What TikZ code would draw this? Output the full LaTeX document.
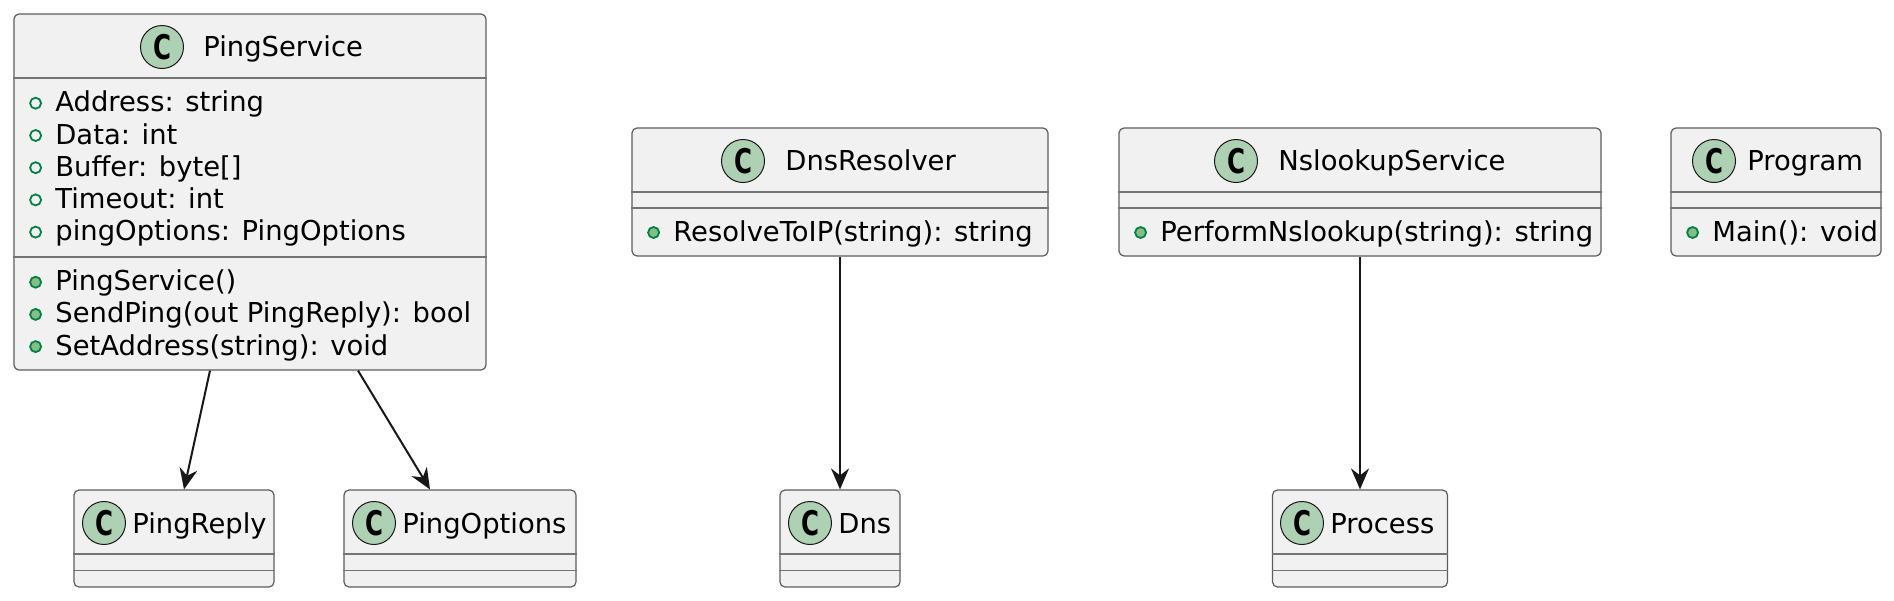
\documentclass[tikz,border=0pt]{standalone}
\usepackage{fontspec}
\setmainfont{DejaVu Sans}
\usetikzlibrary{arrows.meta, positioning}
\definecolor{umlfill}{HTML}{F1F1F1}
\definecolor{umlline}{HTML}{181818}
\definecolor{umlspot}{HTML}{ADD1B2}
\definecolor{umlgreen}{HTML}{038048}
\definecolor{umlmeth}{HTML}{84BE84}
\tikzset{
        classbox/.style={draw=umlline!70, fill=umlfill, rounded corners=2.5pt, line width=0.6pt, inner sep=0pt}, % body of a class
        spot/.style={circle, draw=umlline, fill=umlspot, line width=0.5pt, minimum size=21.5pt, inner sep=0pt,
                font=\bfseries\fontsize{17}{17}\selectfont}, % the round C
        cname/.style={anchor=base west, inner sep=0pt}, % class name
        member/.style={anchor=base west, inner sep=0pt, text height=10pt, text depth=1.5pt},
        bullet/.style={circle, draw=umlgreen, line width=0.9pt, minimum size=5.5pt, inner sep=0pt, xshift=-6.5pt},
        field/.style={member, label={[bullet]left:{}}}, % open dot
        method/.style={member, label={[bullet, fill=umlmeth]left:{}}}, % filled dot
        sep/.style={draw=umlline!60, line width=0.6pt},
        uses/.style={draw=umlline, line width=1pt, -{Stealth[length=10.5pt, width=9pt, inset=3.5pt]}},
    }
\begin{document}
\begin{tikzpicture}[x=0.5pt, y=-0.5pt, font=\fontsize{13.7}{16}\selectfont]
    \useasboundingbox (0,0) rectangle (1894,600);
    % top row
    \node[classbox, minimum width=236pt, minimum height=178pt] (PingService) at (250,192) {};
    \node[spot] (psC) at (162,47) {\scalebox{0.72}[1]{C}};
    \node[cname] (psName) at (203,56) {PingService};
    \draw[sep] (PingService.west |- 0,78) -- (PingService.east |- 0,78);
    \node[field] (psAddress) at (55,111.7) {Address: string};
    \node[field] (psData) at (55,144) {Data: int};
    \node[field] (psBuffer) at (55,176.2) {Buffer: byte[]};
    \node[field] (psTimeout) at (55,208.4) {Timeout: int};
    \node[field] (psOptions) at (55,240.6) {pingOptions: PingOptions};
    \draw[sep] (PingService.west |- 0,257) -- (PingService.east |- 0,257);
    \node[method] (psCtor) at (55,290.7) {PingService()};
    \node[method] (psSend) at (55,322.9) {SendPing(out PingReply): bool};
    \node[method] (psSet) at (55,355.1) {SetAddress(string): void};

    \node[classbox, minimum width=208pt, minimum height=64pt] (DnsResolver) at (840,192) {};
    \node[spot] (drC) at (743,161) {\scalebox{0.72}[1]{C}};
    \node[cname] (drName) at (785,170.5) {DnsResolver};
    \draw[sep] (DnsResolver.west |- 0,192) -- (DnsResolver.east |- 0,192);
    \draw[sep] (DnsResolver.west |- 0,208) -- (DnsResolver.east |- 0,208);
    \node[method] (drResolve) at (673,241) {ResolveToIP(string): string};

    \node[classbox, minimum width=241pt, minimum height=64pt] (NslookupService) at (1360,192) {};
    \node[spot] (nsC) at (1236,161) {\scalebox{0.72}[1]{C}};
    \node[cname] (nsName) at (1278,170.5) {NslookupService};
    \draw[sep] (NslookupService.west |- 0,192) -- (NslookupService.east |- 0,192);
    \draw[sep] (NslookupService.west |- 0,208) -- (NslookupService.east |- 0,208);
    \node[method] (nsPerform) at (1160,241) {PerformNslookup(string): string};

    \node[classbox, minimum width=105pt, minimum height=64pt] (Program) at (1776,192) {};
    \node[spot] (prC) at (1714,161) {\scalebox{0.72}[1]{C}};
    \node[cname] (prName) at (1747,170.5) {Program};
    \draw[sep] (Program.west |- 0,192) -- (Program.east |- 0,192);
    \draw[sep] (Program.west |- 0,208) -- (Program.east |- 0,208);
    \node[method] (prMain) at (1712,241) {Main(): void};

    % bottom row
    \node[classbox, minimum width=100pt, minimum height=48.5pt] (PingReply) at (174,538.5) {};
    \node[spot] (rpC) at (104,523) {\scalebox{0.72}[1]{C}};
    \node[cname] (rpName) at (132,533) {PingReply};
    \node[classbox, minimum width=116pt, minimum height=48.5pt] (PingOptions) at (460,538.5) {};
    \node[spot] (poC) at (374,523) {\scalebox{0.72}[1]{C}};
    \node[cname] (poName) at (402,533) {PingOptions};
    \node[classbox, minimum width=60pt, minimum height=48.5pt] (Dns) at (840,538.5) {};
    \node[spot] (dnC) at (810,523) {\scalebox{0.72}[1]{C}};
    \node[cname] (dnName) at (838,533) {Dns};
    \node[classbox, minimum width=87.5pt, minimum height=48.5pt] (Process) at (1360,538.5) {};
    \node[spot] (pcC) at (1302,523) {\scalebox{0.72}[1]{C}};
    \node[cname] (pcName) at (1330,533) {Process};
    \draw[sep] (PingReply.west |- 0,554) -- (PingReply.east |- 0,554)
               (PingReply.west |- 0,570.5) -- (PingReply.east |- 0,570.5)
               (PingOptions.west |- 0,554) -- (PingOptions.east |- 0,554)
               (PingOptions.west |- 0,570.5) -- (PingOptions.east |- 0,570.5)
               (Dns.west |- 0,554) -- (Dns.east |- 0,554)
               (Dns.west |- 0,570.5) -- (Dns.east |- 0,570.5)
               (Process.west |- 0,554) -- (Process.east |- 0,554)
               (Process.west |- 0,570.5) -- (Process.east |- 0,570.5);

    % dependencies
    \draw[uses] ([xshift=-20pt]PingService.south) -- ([xshift=5pt]PingReply.north);
    \draw[uses] ([xshift=54pt]PingService.south) -- ([xshift=-15pt]PingOptions.north);
    \draw[uses] (DnsResolver.south) -- (Dns.north);
    \draw[uses] (NslookupService.south) -- (Process.north);
\end{tikzpicture}
\end{document}
